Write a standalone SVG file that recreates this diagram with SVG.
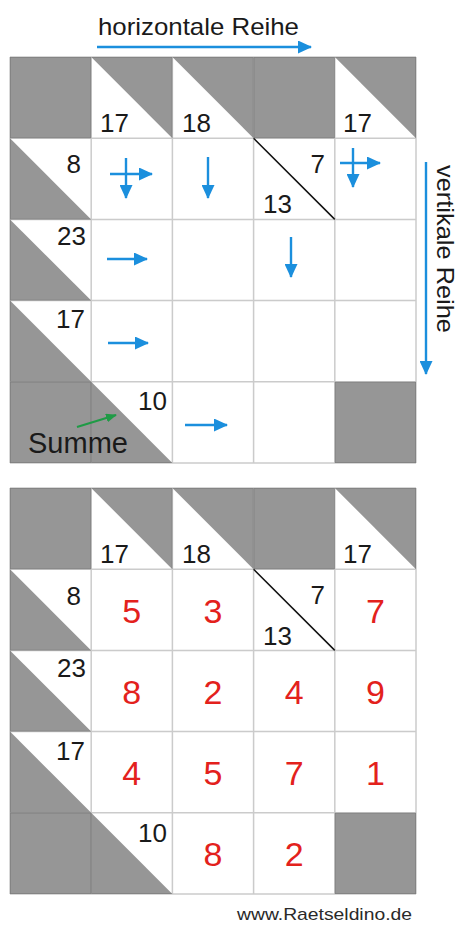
<svg xmlns="http://www.w3.org/2000/svg" width="466" height="939" viewBox="0 0 466 939">
<style>
text{font-family:"Liberation Sans",Arial,Helvetica,sans-serif;}
.bg{fill:#ffffff;}
.g{fill:#969696;}
.grid{stroke:rgba(70,70,70,0.28);stroke-width:1.5;fill:none;}
.clue{font-size:26px;fill:#1a1a1a;}
.end{text-anchor:end;}
.sol{font-size:34px;fill:#e3211c;text-anchor:middle;}
.diag{stroke:#111;stroke-width:1.5;}
.blue{stroke:#1b8fdd;stroke-width:2.4;fill:none;marker-end:url(#ab);}
.label{font-size:24px;fill:#1a1a1a;}
</style>
<defs>
<marker id="ab" viewBox="0 0 14 13" refX="13" refY="6.5" markerWidth="14" markerHeight="13" markerUnits="userSpaceOnUse" orient="auto"><path d="M0,0 L14,6.5 L0,13 z" fill="#1b8fdd"/></marker>
<marker id="ag" viewBox="0 0 11 9" refX="10" refY="4.5" markerWidth="11" markerHeight="9" markerUnits="userSpaceOnUse" orient="auto"><path d="M0,0 L11,4.5 L0,9 z" fill="#1f9b46"/></marker>
</defs>
<rect class="bg" x="0" y="0" width="466" height="939"/>

<g id="label-horizontal">
<text class="label" x="98" y="35" textLength="201" lengthAdjust="spacingAndGlyphs">horizontale Reihe</text>
</g>
<g id="label-vertical">
<text class="label" transform="translate(437,165) rotate(90)" textLength="168" lengthAdjust="spacingAndGlyphs">vertikale Reihe</text>
</g>

<!-- TOP PANEL -->
<g id="panel-top">
<rect class="bg" x="10" y="57" width="406" height="406"/>
<g id="t-r0c0"><rect class="g" x="10" y="57" width="81.2" height="81.2"/></g>
<g id="t-r0c1"><polygon class="g" points="91.2,57 172.4,57 172.4,138.2"/><text class="clue" x="100" y="132">17</text></g>
<g id="t-r0c2"><polygon class="g" points="172.4,57 253.6,57 253.6,138.2"/><text class="clue" x="182" y="132">18</text></g>
<g id="t-r0c3"><rect class="g" x="253.6" y="57" width="81.2" height="81.2"/></g>
<g id="t-r0c4"><polygon class="g" points="334.8,57 416,57 416,138.2"/><text class="clue" x="343" y="132">17</text></g>
<g id="t-r1c0"><polygon class="g" points="10,138.2 10,219.4 91.2,219.4"/><text class="clue end" x="81" y="173">8</text></g>
<g id="t-r1c3"><line class="diag" x1="253.6" y1="138.2" x2="334.8" y2="219.4"/><text class="clue end" x="325" y="173">7</text><text class="clue" x="263" y="213">13</text></g>
<g id="t-r2c0"><polygon class="g" points="10,219.4 10,300.6 91.2,300.6"/><text class="clue end" x="86" y="245">23</text></g>
<g id="t-r3c0"><polygon class="g" points="10,300.6 10,381.8 91.2,381.8"/><text class="clue end" x="85" y="328">17</text></g>
<g id="t-r4c0"><rect class="g" x="10" y="381.8" width="81.2" height="81.2"/></g>
<g id="t-r4c1"><polygon class="g" points="91.2,381.8 91.2,463 172.4,463"/><text class="clue end" x="167" y="410">10</text></g>
<g id="t-r4c4"><rect class="g" x="334.8" y="381.8" width="81.2" height="81.2"/></g>
<path class="grid" d="M10,57H416M10,138.2H416M10,219.4H416M10,300.6H416M10,381.8H416M10,463H416M10,57V463M91.2,57V463M172.4,57V463M253.6,57V463M334.8,57V463M416,57V463"/>
<g id="t-summe"><text x="28" y="453" style="font-size:29px;fill:#1a1a1a">Summe</text></g>
</g>

<g id="connectors">
<line class="blue" x1="97" y1="47" x2="311" y2="47"/>
<line class="blue" x1="426" y1="162" x2="426" y2="374"/>
<line class="blue" x1="110" y1="174" x2="152" y2="174"/>
<line class="blue" x1="126" y1="158" x2="126" y2="198"/>
<line class="blue" x1="208" y1="157" x2="208" y2="198"/>
<line class="blue" x1="340" y1="163" x2="380" y2="163"/>
<line class="blue" x1="353" y1="148" x2="353" y2="187"/>
<line class="blue" x1="107" y1="259" x2="147" y2="259"/>
<line class="blue" x1="291" y1="237" x2="291" y2="277"/>
<line class="blue" x1="108" y1="343" x2="148" y2="343"/>
<line class="blue" x1="185" y1="425" x2="227" y2="425"/>
<line x1="77" y1="427" x2="116" y2="415" stroke="#1f9b46" stroke-width="2.2" marker-end="url(#ag)"/>
</g>

<!-- BOTTOM PANEL -->
<g id="panel-bottom" transform="translate(0,431)">
<rect class="bg" x="10" y="57" width="406" height="406"/>
<g id="b-r0c0"><rect class="g" x="10" y="57" width="81.2" height="81.2"/></g>
<g id="b-r0c1"><polygon class="g" points="91.2,57 172.4,57 172.4,138.2"/><text class="clue" x="100" y="132">17</text></g>
<g id="b-r0c2"><polygon class="g" points="172.4,57 253.6,57 253.6,138.2"/><text class="clue" x="182" y="132">18</text></g>
<g id="b-r0c3"><rect class="g" x="253.6" y="57" width="81.2" height="81.2"/></g>
<g id="b-r0c4"><polygon class="g" points="334.8,57 416,57 416,138.2"/><text class="clue" x="343" y="132">17</text></g>
<g id="b-r1c0"><polygon class="g" points="10,138.2 10,219.4 91.2,219.4"/><text class="clue end" x="81" y="174">8</text></g>
<g id="b-r1c3"><line class="diag" x1="253.6" y1="138.2" x2="334.8" y2="219.4"/><text class="clue end" x="325" y="173">7</text><text class="clue" x="263" y="214">13</text></g>
<g id="b-r2c0"><polygon class="g" points="10,219.4 10,300.6 91.2,300.6"/><text class="clue end" x="86" y="246">23</text></g>
<g id="b-r3c0"><polygon class="g" points="10,300.6 10,381.8 91.2,381.8"/><text class="clue end" x="85" y="329">17</text></g>
<g id="b-r4c0"><rect class="g" x="10" y="381.8" width="81.2" height="81.2"/></g>
<g id="b-r4c1"><polygon class="g" points="91.2,381.8 91.2,463 172.4,463"/><text class="clue end" x="167" y="411">10</text></g>
<g id="b-r4c4"><rect class="g" x="334.8" y="381.8" width="81.2" height="81.2"/></g>
<g id="b-solutions">
<text class="sol" x="131.8" y="191.5">5</text>
<text class="sol" x="213" y="191.5">3</text>
<text class="sol" x="375.4" y="191.5">7</text>
<text class="sol" x="131.8" y="272.5">8</text>
<text class="sol" x="213" y="272.5">2</text>
<text class="sol" x="294.2" y="272.5">4</text>
<text class="sol" x="375.4" y="272.5">9</text>
<text class="sol" x="131.8" y="353.7">4</text>
<text class="sol" x="213" y="353.7">5</text>
<text class="sol" x="294.2" y="353.7">7</text>
<text class="sol" x="375.4" y="353.7">1</text>
<text class="sol" x="213" y="435">8</text>
<text class="sol" x="294.2" y="435">2</text>
</g>
<path class="grid" d="M10,57H416M10,138.2H416M10,219.4H416M10,300.6H416M10,381.8H416M10,463H416M10,57V463M91.2,57V463M172.4,57V463M253.6,57V463M334.8,57V463M416,57V463"/>
</g>

<g id="credit">
<text x="237" y="920" textLength="175" lengthAdjust="spacingAndGlyphs" style="font-size:17px;fill:#2a2a2a">www.Raetseldino.de</text>
</g>
</svg>
